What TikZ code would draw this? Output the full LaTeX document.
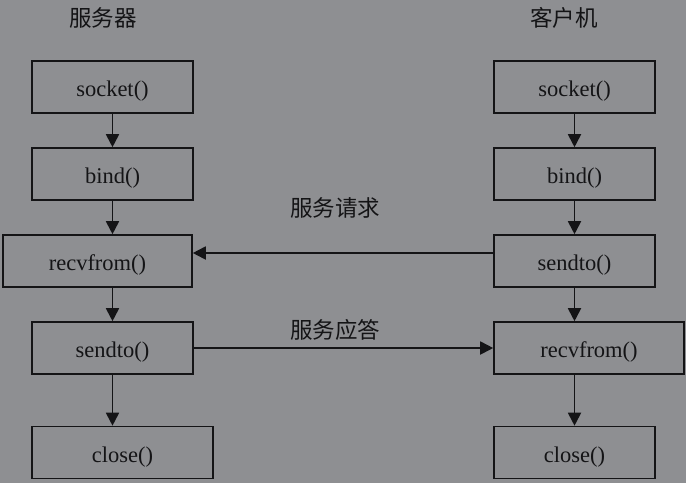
\documentclass[tikz,border=0pt]{standalone}
\usepackage{fontspec}
\setmainfont{Liberation Serif}
\newfontfamily\cjk{Noto Sans CJK SC}
\usepackage{xcolor}
\usetikzlibrary{arrows.meta,positioning}

\definecolor{bggray}{RGB}{142,143,146}
\definecolor{ink}{RGB}{20,20,22}

\begin{document}
\begin{tikzpicture}[x=1pt,y=1pt,->,>={Triangle[length=13pt,width=13pt]},node distance=87pt,on grid,
    line width=1.8pt,draw=ink,text=ink,font=\fontsize{22.5}{26}\selectfont]

    \tikzstyle{box}=[draw=ink,line width=1.6pt,rectangle,fill=bggray,minimum width=161pt,minimum height=52pt,inner sep=0pt,text height=19pt,text depth=0pt]

    \fill[bggray] (0,0) rectangle (686,-483);
    \useasboundingbox (0,0) rectangle (686,-483);

    % server side
    \node (server) at (103,-18)                                   {\cjk 服务器};
    \node[box] (socketS) at (112.5,-87)                           {socket()};
    \node[box] (bindS)   [below of = socketS]                     {bind()};
    \node[box, minimum width=189pt] (recvS) [below of = bindS, xshift=-15pt]  {recvfrom()};
    \node[box] (sendS)   [below of = recvS, xshift=15pt]          {sendto()};
    \node[box, minimum width=181pt] (closeS) [below of = sendS, node distance=104.5pt, xshift=10pt] {close()};

    % client side
    \node (client) at (564,-18)                                   {\cjk 客户机};
    \node[box] (socketC) at (574.5,-87)                           {socket()};
    \node[box] (bindC)   [below of = socketC]                     {bind()};
    \node[box] (sendC)   [below of = bindC]                       {sendto()};
    \node[box, minimum width=190pt] (recvC) [below of = sendC, xshift=14.5pt] {recvfrom()};
    \node[box] (closeC)  [below of = recvC, node distance=104.5pt, xshift=-14.5pt] {close()};

    \path (socketS) edge (bindS)
          (bindS.south)  edge (bindS.south |- recvS.north)
          (sendS.south |- recvS.south) edge (sendS)
          (sendS.south)  edge (sendS.south |- closeS.north)
          (socketC) edge (bindC)
          (bindC)   edge (sendC)
          (sendC.south)  edge (sendC.south |- recvC.north)
          (recvC.south -| closeC.north) edge (closeC);

    % messages
    \path ([yshift=8pt]sendC.west) edge ([yshift=8pt]sendC.west -| recvS.east)
          (sendS.east) edge (sendS.east -| recvC.west);
    \node (request)  at (335,-208) {\cjk 服务请求};
    \node (response) at (335,-330) {\cjk 服务应答};
\end{tikzpicture}
\end{document}
